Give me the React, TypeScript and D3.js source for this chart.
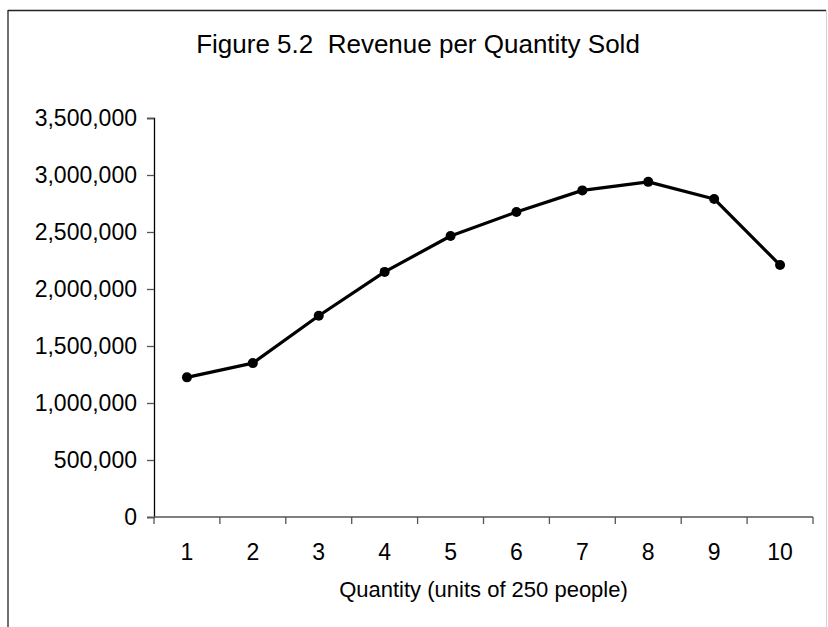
import { useEffect, useRef } from "react";
import * as d3 from "d3";

const quantities = ["1", "2", "3", "4", "5", "6", "7", "8", "9", "10"];
const revenue = [1225000, 1350000, 1765000, 2150000, 2465000, 2675000, 2865000, 2940000, 2790000, 2210000];
const yTicks = [0, 500000, 1000000, 1500000, 2000000, 2500000, 3000000, 3500000];

const title = "Figure 5.2  Revenue per Quantity Sold";
const xTitle = "Quantity (units of 250 people)";

export default function App() {
  const svgRef = useRef<SVGSVGElement | null>(null);

  useEffect(() => {
    const svgElement = svgRef.current;
    if (!svgElement) return;

    const width = 828;
    const height = 627;
    const plot = { left: 154, right: 813, top: 118, bottom: 517 };
    const font = "'Liberation Sans', Arial, sans-serif";

    const svg = d3.select(svgElement);
    svg.selectAll("*").remove();
    svg.attr("viewBox", `0 0 ${width} ${height}`);

    svg.append("rect").attr("width", width).attr("height", height).attr("fill", "#fff");

    // outer frame: dark top/left, faint right, bottom cut off
    svg.append("line").attr("x1", 8).attr("x2", 826).attr("y1", 10.5).attr("y2", 10.5)
      .attr("stroke", "#222").attr("stroke-width", 1.3);
    svg.append("line").attr("x1", 8).attr("x2", 8).attr("y1", 10).attr("y2", height)
      .attr("stroke", "#222").attr("stroke-width", 1.3);
    svg.append("line").attr("x1", 826.5).attr("x2", 826.5).attr("y1", 10).attr("y2", height)
      .attr("stroke", "#d4d4d4").attr("stroke-width", 1);

    const x = d3.scaleBand<string>().domain(quantities).range([plot.left, plot.right]).padding(0);
    const y = d3.scaleLinear().domain([0, 3500000]).range([plot.bottom, plot.top]);

    svg.append("text")
      .attr("x", 418)
      .attr("y", 53)
      .attr("text-anchor", "middle")
      .attr("font-family", font)
      .attr("font-size", 26)
      .attr("fill", "#000")
      .attr("xml:space", "preserve")
      .style("white-space", "pre")
      .text(title);

    // y axis
    const yAxis = svg.append("g")
      .attr("transform", `translate(${plot.left}, 0)`)
      .call(d3.axisLeft(y).tickValues(yTicks).tickSize(7).tickPadding(10)
        .tickFormat((d) => d3.format(",")(d as number)));
    yAxis.select(".domain").attr("stroke", "#000").attr("stroke-width", 1.3);
    yAxis.selectAll(".tick line").attr("stroke", "#555").attr("stroke-width", 1.3);
    yAxis.selectAll("text")
      .attr("font-family", font)
      .attr("font-size", 23)
      .attr("fill", "#000");

    // x axis with ticks at the category boundaries
    const xAxis = svg.append("g").attr("transform", `translate(0, ${plot.bottom})`);
    xAxis.append("line")
      .attr("x1", plot.left).attr("x2", plot.right)
      .attr("stroke", "#555").attr("stroke-width", 1.3);
    const bounds = quantities.map((q) => x(q) ?? 0).concat([plot.right]);
    xAxis.selectAll("line.tick")
      .data(bounds)
      .join("line")
      .attr("class", "tick")
      .attr("x1", (d) => d).attr("x2", (d) => d)
      .attr("y1", 0).attr("y2", 7)
      .attr("stroke", "#555").attr("stroke-width", 1.3);
    xAxis.selectAll("text.label")
      .data(quantities)
      .join("text")
      .attr("class", "label")
      .attr("x", (d) => (x(d) ?? 0) + x.bandwidth() / 2)
      .attr("y", 43)
      .attr("text-anchor", "middle")
      .attr("font-family", font)
      .attr("font-size", 23)
      .attr("fill", "#000")
      .text((d) => d);

    svg.append("text")
      .attr("x", (plot.left + plot.right) / 2)
      .attr("y", 597)
      .attr("text-anchor", "middle")
      .attr("font-family", font)
      .attr("font-size", 22)
      .attr("fill", "#000")
      .text(xTitle);

    const points = quantities.map((q, i) => ({ q, v: revenue[i] }));
    const line = d3.line<{ q: string; v: number }>()
      .x((d) => (x(d.q) ?? 0) + x.bandwidth() / 2)
      .y((d) => y(d.v));

    svg.append("path")
      .datum(points)
      .attr("d", line)
      .attr("fill", "none")
      .attr("stroke", "#000")
      .attr("stroke-width", 3.2)
      .attr("stroke-linejoin", "round");

    svg.selectAll("circle.pt")
      .data(points)
      .join("circle")
      .attr("class", "pt")
      .attr("cx", (d) => (x(d.q) ?? 0) + x.bandwidth() / 2)
      .attr("cy", (d) => y(d.v))
      .attr("r", 5)
      .attr("fill", "#000");
  }, []);

  return (
    <svg
      ref={svgRef}
      width={828}
      height={627}
      style={{ position: "absolute", left: 0, top: 0, display: "block" }}
      role="img"
      aria-label={title}
    />
  );
}
